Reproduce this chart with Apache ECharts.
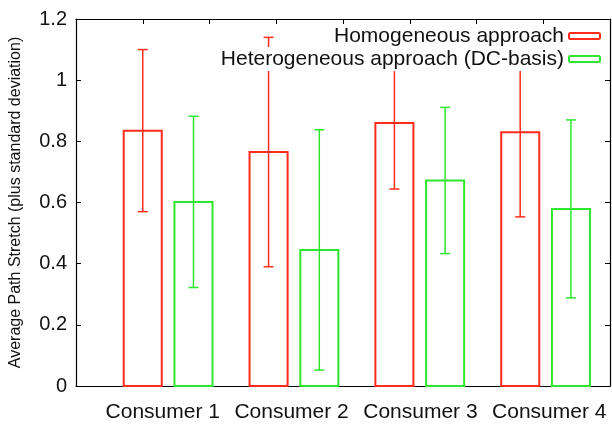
<!DOCTYPE html>
<html>
<head>
<meta charset="utf-8">
<script src="https://cdn.jsdelivr.net/npm/echarts@6/dist/echarts.min.js"></script>
<style>html,body{margin:0;padding:0;background:#fff}#c{width:612px;height:428px}</style>
</head>
<body>
<div id="c"></div>
<script>
const categories = ['Consumer 1', 'Consumer 2', 'Consumer 3', 'Consumer 4'];
const seriesNames = ['Homogeneous approach', 'Heterogeneous approach (DC-basis)'];
const homMean = [0.835, 0.765, 0.86, 0.83];
const homSd = [0.265, 0.375, 0.216, 0.277];
const hetMean = [0.602, 0.445, 0.672, 0.579];
const hetSd = [0.28, 0.393, 0.239, 0.291];
const yTicks = [0, 0.2, 0.4, 0.6, 0.8, 1, 1.2];

const RED = '#ff2b1c';
const GREEN = '#2ee62e';
const FONT = 'Liberation Sans, Arial, sans-serif';

// layout (x axis in half-slot units, 0..8)
const BASE = 1.38, STEP = 1.885, OFF = 0.38, BARW = 0.57;

function barRender(color, side) {
  return function (params, api) {
    const i = api.value(0);
    const m = api.value(1);
    const sd = api.value(2);
    const xc = BASE + i * STEP + side * OFF;
    const p0 = api.coord([xc, 0]);
    const pm = api.coord([xc, m]);
    const pl = api.coord([xc, m - sd]);
    const ph = api.coord([xc, m + sd]);
    const w = api.size([BARW, 0])[0];
    const cap = 5;
    return {
      type: 'group',
      children: [
        { type: 'rect', shape: { x: pm[0] - w / 2, y: pm[1], width: w, height: p0[1] - pm[1] },
          style: { fill: 'none', stroke: color, lineWidth: 2 } },
        { type: 'line', shape: { x1: pl[0], y1: pl[1], x2: ph[0], y2: ph[1] },
          style: { stroke: color, lineWidth: 1.5 } },
        { type: 'line', shape: { x1: pl[0] - cap, y1: pl[1], x2: pl[0] + cap, y2: pl[1] },
          style: { stroke: color, lineWidth: 1.5 } },
        { type: 'line', shape: { x1: ph[0] - cap, y1: ph[1], x2: ph[0] + cap, y2: ph[1] },
          style: { stroke: color, lineWidth: 1.5 } }
      ]
    };
  };
}

const chart = echarts.init(document.getElementById('c'), null, { renderer: 'canvas' });
const legendBase = {
  orient: 'horizontal', align: 'right', right: 11, padding: 0,
  itemWidth: 31, itemHeight: 6, icon: 'roundRect',
  textStyle: { fontSize: 21, fontFamily: FONT, color: '#111', backgroundColor: '#fff', lineHeight: 24 },
  selectedMode: false, z: 10
};
const axisLineStyle = { show: true, onZero: false, lineStyle: { color: '#000', width: 1.2 } };
chart.setOption({
  animation: false,
  backgroundColor: '#fff',
  grid: { left: 69, right: 2, top: 19, bottom: 42 },
  legend: [
    Object.assign({}, legendBase, { top: 24, data: [{ name: seriesNames[0], itemStyle: { color: 'transparent', borderColor: RED, borderWidth: 2 } }] }),
    Object.assign({}, legendBase, { top: 47, data: [{ name: seriesNames[1], itemStyle: { color: 'transparent', borderColor: GREEN, borderWidth: 2 } }] })
  ],
  xAxis: [
    { type: 'value', min: 0, max: 8, interval: 1, position: 'bottom',
      axisLine: axisLineStyle,
      axisTick: { show: false }, axisLabel: { show: false }, splitLine: { show: false } },
    { type: 'value', min: 0, max: 8, interval: 1, position: 'top',
      axisLine: axisLineStyle,
      axisTick: { show: true, inside: true, length: 5, lineStyle: { color: '#000' } },
      axisLabel: { show: false }, splitLine: { show: false } }
  ],
  yAxis: [
    { type: 'value', min: yTicks[0], max: yTicks[yTicks.length - 1], interval: 0.2, position: 'left',
      name: 'Average Path Stretch (plus standard deviation)', nameLocation: 'middle', nameGap: 52,
      nameTextStyle: { fontSize: 16, fontFamily: FONT, color: '#111' },
      axisLine: axisLineStyle,
      axisTick: { show: true, inside: true, length: 5, lineStyle: { color: '#000' } },
      axisLabel: { fontSize: 20, fontFamily: FONT, color: '#111', margin: 9,
        formatter: v => String(parseFloat(v.toFixed(1))) },
      splitLine: { show: false } },
    { type: 'value', min: yTicks[0], max: yTicks[yTicks.length - 1], interval: 0.2, position: 'right',
      axisLine: axisLineStyle,
      axisTick: { show: true, inside: true, length: 5, lineStyle: { color: '#000' } },
      axisLabel: { show: false }, splitLine: { show: false } }
  ],
  series: [
    { name: seriesNames[0], type: 'custom', xAxisIndex: 0, yAxisIndex: 0,
      itemStyle: { color: RED },
      data: categories.map((c, i) => [i, homMean[i], homSd[i]]),
      renderItem: barRender(RED, -1) },
    { name: seriesNames[1], type: 'custom', xAxisIndex: 0, yAxisIndex: 0,
      itemStyle: { color: GREEN },
      data: categories.map((c, i) => [i, hetMean[i], hetSd[i]]),
      renderItem: barRender(GREEN, 1) },
    { name: 'labels', type: 'custom', xAxisIndex: 0, yAxisIndex: 0, silent: true,
      data: categories.map((c, i) => [i, 0]),
      renderItem: function (params, api) {
        const i = api.value(0);
        const p = api.coord([1.3 + i * 1.93, 0]);
        return { type: 'text', x: p[0], y: p[1] + 16,
          style: { text: categories[i], fontSize: 21, fontFamily: FONT, fill: '#111',
            align: 'center', verticalAlign: 'top' } };
      } }
  ]
});
</script>
</body>
</html>
